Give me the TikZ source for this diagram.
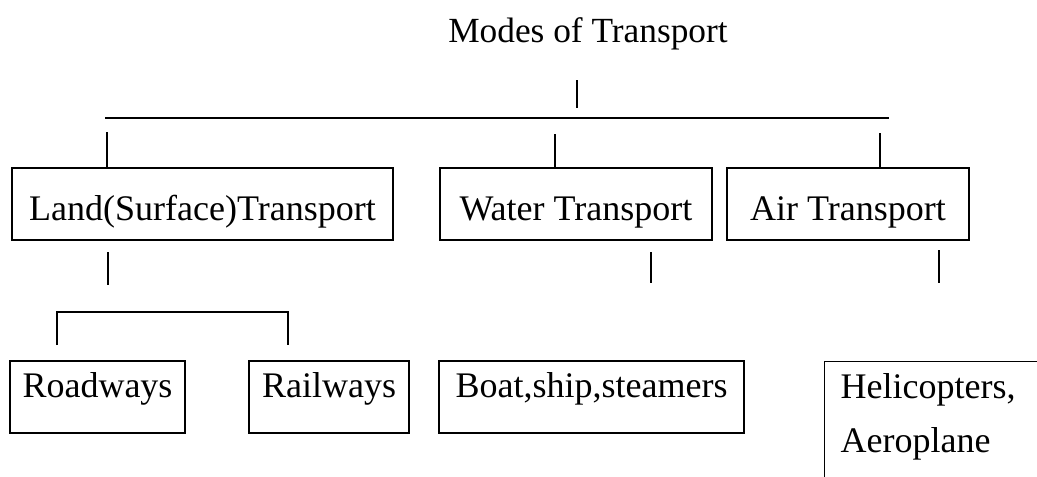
\documentclass[tikz,border=0pt]{standalone}
\usepackage{fontspec}
\setmainfont{Liberation Serif}
\begin{document}
\begin{tikzpicture}[x=0.75pt,y=-0.75pt,
  line width=1pt,
  conn/.style={draw=black, line width=1pt},
  topbox/.style={draw, line width=1pt, inner ysep=0pt, inner xsep=0pt,
    text height=39pt, text depth=15pt, font=\fontsize{27}{32}\selectfont},
  lowbox/.style={draw, line width=1pt, inner ysep=0pt, inner xsep=0pt,
    text height=27pt, text depth=27pt, font=\fontsize{27}{32}\selectfont},
  titletext/.style={inner sep=0pt, font=\fontsize{26.5}{31}\selectfont}]
\useasboundingbox (0,0) rectangle (1037,476);
\clip (0,0) rectangle (1037,476);
% title
\node[titletext, anchor=base] (title) at (588,42) {Modes of Transport};
% level 1 boxes
\node[topbox, minimum width=285.75pt] (land) at (202.5,204) {Land(Surface)Transport};
\node[topbox, minimum width=204pt] (water) at (576,204) {Water Transport};
\node[topbox, minimum width=181.5pt] (air) at (848,204) {Air Transport};
% level 2 boxes
\node[lowbox, minimum width=131.25pt] (road) at (97.5,397) {Roadways};
\node[lowbox, minimum width=120pt] (rail) at (329,397) {Railways};
\node[lowbox, minimum width=228.75pt] (boat) at (591.5,397) {Boat,ship,steamers};
\node[draw, line width=1pt, anchor=north west, inner xsep=12pt, inner ysep=9pt,
  text width=200pt, align=left, text depth=60pt,
  font=\fontsize{27}{40.5}\selectfont] (heli) at (824,361) {Helicopters,\\Aeroplane};
% connectors: title to bus
\coordinate (tA) at (577,80);
\coordinate (tB) at (577,108);
\draw[conn] (tA) -- (tB);
\coordinate (busL) at (105,118);
\coordinate (busR) at (889,118);
\draw[conn] (busL) -- (busR);
% drops to level 1
\coordinate (dland) at (107,132);
\coordinate (dwater) at (555,134);
\coordinate (dair) at (880,133);
\draw[conn] (dland) -- (dland |- land.north);
\draw[conn] (dwater) -- (dwater |- water.north);
\draw[conn] (dair) -- (dair |- air.north);
% below level 1
\coordinate (uland) at (108,252);
\coordinate (uland2) at (108,285);
\draw[conn] (uland) -- (uland2);
\coordinate (uwater) at (651,252);
\coordinate (uwater2) at (651,283);
\draw[conn] (uwater) -- (uwater2);
\coordinate (uair) at (939,250);
\coordinate (uair2) at (939,283);
\draw[conn] (uair) -- (uair2);
% land sub-bus
\coordinate (sbL) at (57,312);
\coordinate (sbR) at (288,312);
\coordinate (sbL2) at (57,345);
\coordinate (sbR2) at (288,345);
\draw[conn] (sbL2) -- (sbL) -- (sbR) -- (sbR2);
\end{tikzpicture}
\end{document}
